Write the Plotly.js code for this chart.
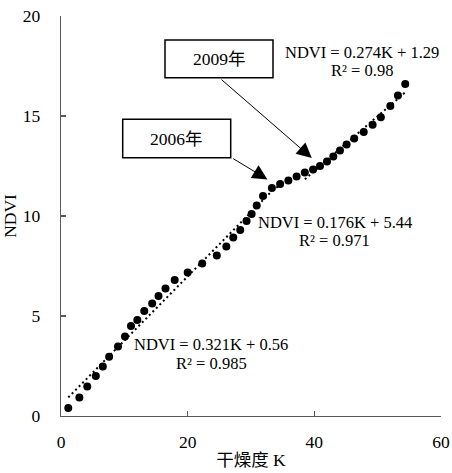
<!DOCTYPE html>
<html>
<head>
<meta charset="utf-8">
<script src="https://cdn.plot.ly/plotly-3.0.1.min.js"></script>
<style>html,body{margin:0;padding:0;background:#fff;}#chart{width:452px;height:473px;}</style>
</head>
<body>
<div id="chart"></div>
<script>
// Dryness index K and NDVI values
const k = [1.15, 2.9, 4.15, 5.5, 6.6, 7.6, 9.0, 10.1, 11.05, 12.05, 13.15, 14.4, 15.4, 16.5, 17.95, 20.0, 22.3, 24.6, 26.1, 27.2, 28.3, 29.3, 30.1, 30.9, 31.9, 33.3, 34.6, 35.9, 37.2, 38.5, 39.8, 40.9, 42.0, 43.0, 44.05, 45.1, 46.3, 47.8, 49.2, 50.5, 52.0, 53.2, 54.35];
const ndvi = [0.40, 0.92, 1.47, 2.0, 2.48, 2.96, 3.47, 3.97, 4.5, 4.8, 5.25, 5.63, 6.0, 6.37, 6.8, 7.18, 7.63, 8.03, 8.47, 8.92, 9.3, 9.75, 10.1, 10.52, 11.0, 11.4, 11.6, 11.77, 11.97, 12.17, 12.32, 12.5, 12.72, 12.97, 13.28, 13.57, 13.88, 14.2, 14.56, 14.94, 15.5, 16.02, 16.6];

// Piecewise linear fits (as printed on the chart)
const fitSlope = [0.321, 0.176, 0.274];
const fitIntercept = [0.56, 5.44, 1.29];
const fitR2 = ['0.985', '0.971', '0.98'];
const fitFromK = [1.15, 33.3, 38.5];
const fitToK = [33.3, 38.5, 54.35];

// Year labels and the points they mark
const yearLabels = ['2009年', '2006年'];
const yearK = [39.6, 32.6];
const yearNdvi = [12.9, 11.83];

const xTicks = [0, 20, 40, 60];
const yTicks = [0, 5, 10, 15, 20];

const FONT = '"Liberation Serif", "Noto Sans CJK SC", serif';
const AX = '#595959';

const traces = [];
for (let i = 0; i < fitSlope.length; i++) {
  const xs = [fitFromK[i], fitToK[i]];
  traces.push({
    x: xs,
    y: xs.map(v => fitSlope[i] * v + fitIntercept[i]),
    mode: 'lines',
    line: {color: '#000', width: 2, dash: '2px,3px'},
    hoverinfo: 'skip',
    showlegend: false
  });
}
traces.push({
  x: k, y: ndvi, mode: 'markers', type: 'scatter',
  marker: {color: '#000', size: 8},
  showlegend: false
});

const eqPos = [
  {x: 47.45, y1: 18.2, y2: 17.3},
  {x: 43.2, y1: 9.68, y2: 8.77},
  {x: 23.7, y1: 3.6, y2: 2.63}
];
const eqIdx = [2, 1, 0];

const annotations = [];
eqIdx.forEach((fi, j) => {
  const p = eqPos[j];
  annotations.push({
    x: p.x, y: p.y1, xref: 'x', yref: 'y', showarrow: false,
    text: 'NDVI = ' + fitSlope[fi].toFixed(3) + 'K + ' + fitIntercept[fi].toFixed(2),
    font: {family: FONT, size: 16.5, color: '#000'}, xanchor: 'center', yanchor: 'middle'
  });
  annotations.push({
    x: p.x, y: p.y2, xref: 'x', yref: 'y', showarrow: false,
    text: 'R² = ' + fitR2[fi],
    font: {family: FONT, size: 16.5, color: '#000'}, xanchor: 'center', yanchor: 'middle'
  });
});

const L = 61, T = 16, W = 380, H = 400;
const boxPx = [
  {x0: 165, x1: 273, y0: 40, y1: 77.7, ax: 220, ay: 78.3},
  {x0: 122.7, x1: 230.7, y0: 119.3, y1: 157.7, ax: 231.7, ay: 157.7}
];
const shapes = [];
boxPx.forEach((b, i) => {
  shapes.push({
    type: 'rect', xref: 'paper', yref: 'paper',
    x0: (b.x0 - L) / W, x1: (b.x1 - L) / W,
    y0: 1 - (b.y1 - T) / H, y1: 1 - (b.y0 - T) / H,
    line: {color: '#000', width: 1.5}, fillcolor: '#fff'
  });
  annotations.push({
    xref: 'paper', yref: 'paper',
    x: ((b.x0 + b.x1) / 2 - L) / W, y: 1 - ((b.y0 + b.y1) / 2 - T) / H,
    text: yearLabels[i], showarrow: false,
    font: {family: FONT, size: 17.5, color: '#000'}, xanchor: 'center', yanchor: 'middle'
  });
  annotations.push({
    x: yearK[i], y: yearNdvi[i], xref: 'x', yref: 'y',
    ax: (b.ax - L) / W * 60, ay: (1 - (b.ay - T) / H) * 20, axref: 'x', ayref: 'y',
    text: '', showarrow: true, arrowhead: 2, arrowsize: 3, arrowwidth: 1, arrowcolor: '#000'
  });
});

const layout = {
  width: 452, height: 473,
  margin: {l: L, r: 11, t: T, b: 57},
  paper_bgcolor: '#fff', plot_bgcolor: '#fff',
  font: {family: FONT, size: 17, color: '#000'},
  xaxis: {
    range: [0, 60], tickvals: xTicks, ticktext: xTicks.map(String),
    showline: true, linecolor: AX, linewidth: 1.3, ticks: 'inside', ticklen: 5, tickcolor: AX, tickwidth: 1.3,
    showgrid: false, zeroline: false, fixedrange: true, ticklabelstandoff: 10,
    tickfont: {family: FONT, size: 17.5, color: '#000'},
    title: {text: '干燥度 K', font: {family: FONT, size: 17.5, color: '#000'}, standoff: 2}
  },
  yaxis: {
    range: [0, 20], tickvals: yTicks, ticktext: yTicks.map(String),
    showline: true, linecolor: AX, linewidth: 1.3, ticks: 'inside', ticklen: 5, tickcolor: AX, tickwidth: 1.3,
    showgrid: false, zeroline: false, fixedrange: true, ticklabelstandoff: 16,
    tickfont: {family: FONT, size: 17.5, color: '#000'},
    title: {text: 'NDVI', font: {family: FONT, size: 17.5, color: '#000'}, standoff: 3}
  },
  shapes: shapes,
  annotations: annotations
};

Plotly.newPlot('chart', traces, layout, {staticPlot: true, displayModeBar: false});
</script>
</body>
</html>
